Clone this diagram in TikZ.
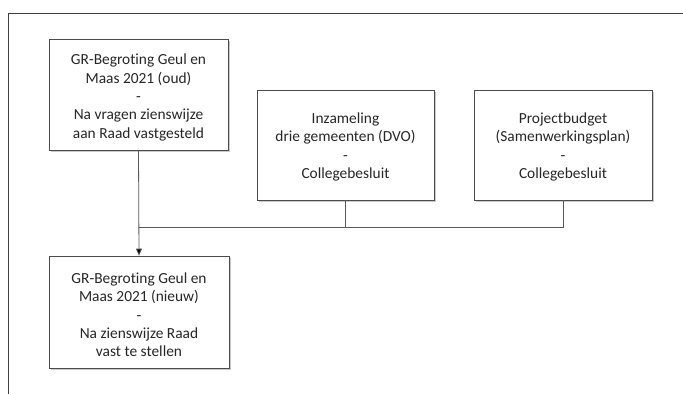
\documentclass[tikz,border=0pt]{standalone}
\usepackage{fontspec}
\setmainfont[Ligatures=NoCommon]{Carlito}
\usetikzlibrary{shadows,arrows.meta}
\begin{document}
\begin{tikzpicture}[x=1pt,y=-1pt,
  box/.style={draw=black!70, line width=0.8pt, fill=white,
    inner sep=0pt,
    drop shadow={shadow xshift=2pt, shadow yshift=-2pt, opacity=0.35, fill=black!60}},
  boxtext/.style={align=center, inner sep=0pt, text=black!85,
    font=\fontsize{15.4}{18.3}\selectfont},
  conn/.style={draw=black!65, line width=0.8pt},
  frame/.style={draw=black!75, line width=0.9pt}]
\useasboundingbox (0,0) rectangle (683,394);
\draw[frame] (683,13) -- (8,13) -- (8,394);
\node[box, minimum width=179pt, minimum height=111pt] (b1) at (138.5,94.5) {};
\node[box, minimum width=177pt, minimum height=110pt] (b2) at (345.5,145) {};
\node[box, minimum width=178pt, minimum height=110pt] (b3) at (563,145) {};
\node[box, minimum width=180pt, minimum height=112pt] (b4) at (139,312) {};
\node[boxtext] (t1) at ([yshift=-3pt]b1.center)
  {GR-Begroting Geul en\\Maas 2021 (oud)\\-\\Na vragen zienswijze\\aan Raad vastgesteld};
\node[boxtext] (t2) at ([yshift=-2pt]b2.center)
  {Inzameling\\drie gemeenten (DVO)\\-\\Collegebesluit};
\node[boxtext] (t3) at ([yshift=-2pt]b3.center)
  {Projectbudget\\(Samenwerkingsplan)\\-\\Collegebesluit};
\node[boxtext] (t4) at ([yshift=-3pt]b4.center)
  {GR-Begroting Geul en\\Maas 2021 (nieuw)\\-\\Na zienswijze Raad\\vast te stellen};
\coordinate (j) at (b1.south |- 0,227);
\draw[conn, -{Triangle[length=7pt,width=6pt,fill=black]}] (b1.south) -- (b4.north);
\draw[conn] (b3.south) |- (j);
\draw[conn] (b2.south) -- (b2.south |- j);
\end{tikzpicture}
\end{document}
